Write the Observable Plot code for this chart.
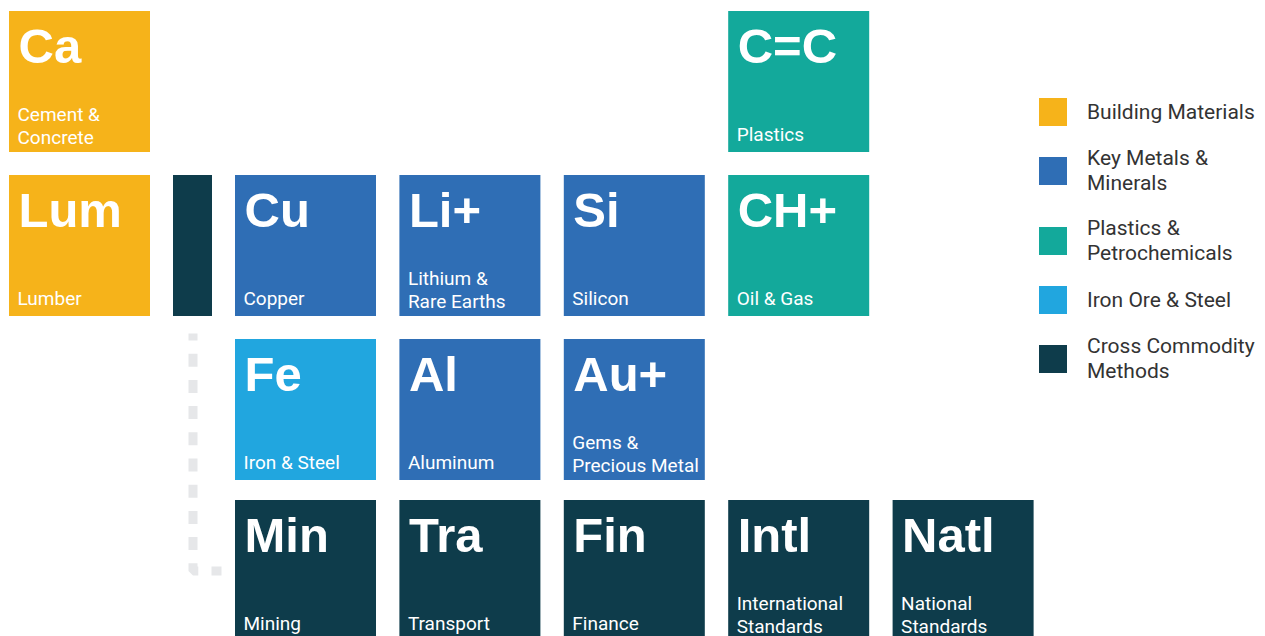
<!DOCTYPE html>
<html>
<head>
<meta charset="utf-8">
<script src="https://cdn.jsdelivr.net/npm/d3@7"></script>
<script src="https://cdn.jsdelivr.net/npm/@observablehq/plot@0.6"></script>
<style>
  html, body { margin: 0; padding: 0; background: #fff; }
  #wrap { position: relative; width: 1265px; height: 636px; overflow: hidden; }
  #chart svg { display: block; }
  #legend { position: absolute; left: 1039px; top: 98px; display: flex; flex-direction: column; gap: 20px;
            font-family: Roboto, sans-serif; font-size: 21px; line-height: 25px; color: #333; }
  .item { display: flex; align-items: center; }
  .sw { width: 28px; height: 28px; flex: none; margin-right: 20px; }
  .lab { white-space: pre; }
</style>
</head>
<body>
<div id="wrap"><div id="chart"></div><div id="legend"></div></div>
<script>
// ---- data ----
const symbols = ["Ca", "C=C", "Lum", "Cu", "Li+", "Si", "CH+", "Fe", "Al", "Au+", "Min", "Tra", "Fin", "Intl", "Natl"];
const names = ["Cement &\nConcrete", "Plastics", "Lumber", "Copper", "Lithium &\nRare Earths", "Silicon", "Oil & Gas",
  "Iron & Steel", "Aluminum", "Gems &\nPrecious Metal", "Mining", "Transport", "Finance",
  "International\nStandards", "National\nStandards"];
const groups = ["Building Materials", "Plastics & Petrochemicals", "Building Materials", "Key Metals & Minerals",
  "Key Metals & Minerals", "Key Metals & Minerals", "Plastics & Petrochemicals", "Iron Ore & Steel",
  "Key Metals & Minerals", "Key Metals & Minerals", "Cross Commodity Methods", "Cross Commodity Methods",
  "Cross Commodity Methods", "Cross Commodity Methods", "Cross Commodity Methods"];
const rows = [0, 0, 1, 1, 1, 1, 1, 2, 2, 2, 3, 3, 3, 3, 3];
const cols = [0, 5, 0, 2, 3, 4, 5, 2, 3, 4, 2, 3, 4, 5, 6];
const categories = ["Building Materials", "Key Metals & Minerals", "Plastics & Petrochemicals", "Iron Ore & Steel", "Cross Commodity Methods"];
const legendLabels = ["Building Materials", "Key Metals &\nMinerals", "Plastics &\nPetrochemicals", "Iron Ore & Steel", "Cross Commodity\nMethods"];
const colors = ["#F6B31A", "#2F6EB5", "#13A99B", "#21A6DF", "#0E3C4B"];
const bridgeGroup = ["Cross Commodity Methods"]; // narrow connector bar next to the first column
const bridgeRow = [1];
const bridgeCol = [1];

// ---- layout ----
const W = 1265, H = 636;
const TILE = 141, BAR_W = 39;
const PITCH_X = 164.4;
function xLeft(c) {
  if (c === 0) return 9;
  if (c === 1) return 9 + 164;
  return 235 + (c - 2) * PITCH_X;
}
function yTop(r) { return r < 3 ? 11 + r * 164 : 500; }

const tiles = symbols.map((s, i) => ({symbol: s, name: names[i], group: groups[i], row: rows[i], col: cols[i],
  lines: names[i].split("\n").length}));
const bridges = bridgeGroup.map((g, i) => ({group: g, row: bridgeRow[i], col: bridgeCol[i]}));

// dotted connector: from under the narrow bar down to the middle of the last row, then to the first tile column
const bx = xLeft(1) + BAR_W / 2;
const connector = [
  [bx, yTop(2) - 6],
  [bx, yTop(3) + TILE / 2],
  [xLeft(2) - 14, yTop(3) + TILE / 2]
];

const chart = Plot.plot({
  width: W, height: H,
  marginTop: 0, marginRight: 0, marginBottom: 0, marginLeft: 0,
  x: {type: "linear", domain: [0, W], range: [0, W], axis: null},
  y: {type: "linear", domain: [0, H], range: [0, H], axis: null},
  color: {domain: categories, range: colors},
  style: {background: "#fff"},
  marks: [
    Plot.line(connector, {x: d => d[0], y: d => d[1], stroke: "#E6E7E9", strokeWidth: 9,
      strokeDasharray: "13,13.2", strokeDashoffset: 6, strokeLinecap: "butt", strokeLinejoin: "miter"}),
    Plot.rect(bridges, {x1: d => xLeft(d.col), x2: d => xLeft(d.col) + BAR_W,
      y1: d => yTop(d.row), y2: d => yTop(d.row) + TILE, fill: "group"}),
    Plot.rect(tiles, {x1: d => xLeft(d.col), x2: d => xLeft(d.col) + TILE,
      y1: d => yTop(d.row), y2: d => yTop(d.row) + TILE, fill: "group"}),
    Plot.text(tiles, {x: d => xLeft(d.col), y: d => yTop(d.row), text: "symbol", dx: 9, dy: 51,
      lineAnchor: "bottom", textAnchor: "start", fill: "white", fontSize: 49, fontWeight: "bold",
      fontFamily: "Liberation Sans, Arial, sans-serif"}),
    Plot.text(tiles.filter(d => d.lines === 1), {x: d => xLeft(d.col), y: d => yTop(d.row) + TILE, text: "name",
      dx: 8, dy: -12, lineAnchor: "bottom", textAnchor: "start", fill: "white", fontSize: 19,
      fontFamily: "Roboto, sans-serif"}),
    Plot.text(tiles.filter(d => d.lines > 1), {x: d => xLeft(d.col), y: d => yTop(d.row) + TILE, text: "name",
      dx: 8, dy: -9, lineAnchor: "bottom", textAnchor: "start", fill: "white", fontSize: 19, lineHeight: 1.2,
      fontFamily: "Roboto, sans-serif"})
  ]
});
document.getElementById("chart").appendChild(chart);

const legend = document.getElementById("legend");
categories.forEach((c, i) => {
  const item = document.createElement("div");
  item.className = "item";
  const sw = document.createElement("div");
  sw.className = "sw";
  sw.style.background = colors[i];
  const lab = document.createElement("div");
  lab.className = "lab";
  lab.textContent = legendLabels[i];
  item.appendChild(sw);
  item.appendChild(lab);
  legend.appendChild(item);
});
</script>
</body>
</html>
